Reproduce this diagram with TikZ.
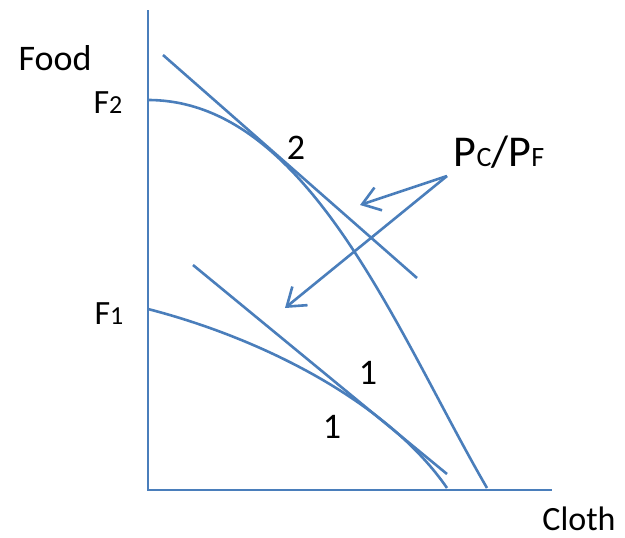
\documentclass[tikz,border=0pt]{standalone}
\usepackage{fontspec}
\setmainfont{Carlito}
\usepackage{tikz}
\usetikzlibrary{arrows.meta}
\definecolor{PlotBlue}{HTML}{4A7EBB}
\newcommand{\lbl}[1]{\fontsize{#1}{#1}\selectfont}

\begin{document}
\begin{tikzpicture}[
    x=0.5pt,y=-0.5pt,
    axis/.style={draw=PlotBlue,line width=1.4pt},
    curve/.style={draw=PlotBlue,line width=1.3pt},
    arr/.style={-{Straight Barb[length=8.5pt,width=12pt,line width=1.3pt]},draw=PlotBlue,line width=1.3pt},
    txt/.style={inner sep=0pt,text=black}
  ]
    \useasboundingbox (0,0) rectangle (625,537);
    % axes
    \coordinate (O) at (148,490);
    \coordinate (ytop) at (148,10);
    \coordinate (xend) at (552,490);
    \draw[axis] (ytop)--(O)--(xend);
    % production possibility frontiers
    \coordinate (F2) at (148,100);
    \coordinate (C2) at (487,488);
    \coordinate (F1) at (148,309);
    \coordinate (C1) at (447,488);
    \draw[curve] (F2) .. controls (308,100) and (397,333) .. (C2);
    \draw[curve] (F1) .. controls (268,340) and (390,405) .. (C1);
    % price lines
    \coordinate (a2) at (163,55);
    \coordinate (b2) at (417,278);
    \coordinate (a1) at (193,265);
    \coordinate (b1) at (447,474);
    \draw[curve] (a2)--(b2);
    \draw[curve] (a1)--(b1);
    % labels
    \node[txt,font=\lbl{18}] (food) at (55,58) {Food};
    \node[txt,font=\lbl{17}] (cloth) at (579,519) {Cloth};
    \node[txt,font=\lbl{17}] (lF2) at (108,103) {F{\lbl{13}2}};
    \node[txt,font=\lbl{17}] (lF1) at (109,314) {F{\lbl{13}1}};
    \node[txt,font=\lbl{18}] (pt2) at (296,148) {2};
    \node[txt,font=\lbl{18}] (pt1a) at (368,373) {1};
    \node[txt,font=\lbl{18}] (pt1b) at (332,427) {1};
    \node[txt,font=\lbl{22}] (ratio) at (499,152) {P{\lbl{14}C}/P{\lbl{14}F}};
    % arrows
    \coordinate (tail) at (447,176);
    \coordinate (h2) at (360,205);
    \coordinate (h1) at (285,308);
    \draw[arr] (tail)--(h2);
    \draw[arr] (tail)--(h1);
  \end{tikzpicture}
\end{document}
